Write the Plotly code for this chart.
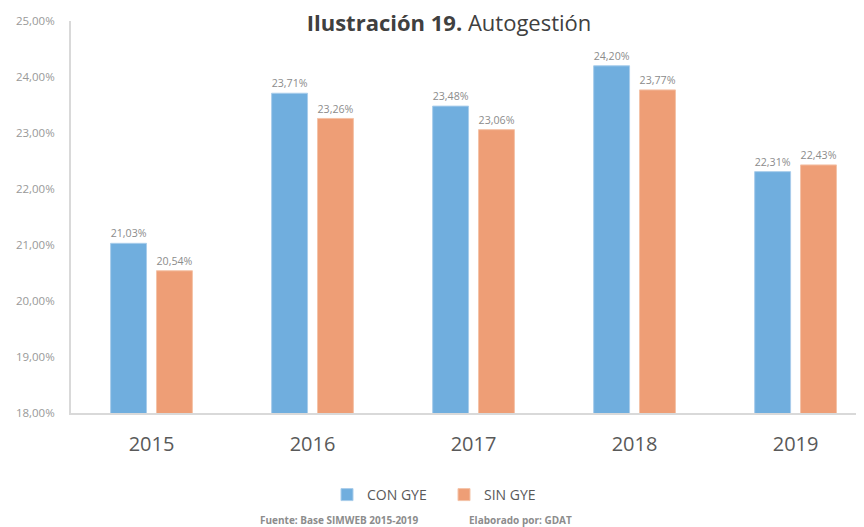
import plotly.graph_objects as go

years = ["2015", "2016", "2017", "2018", "2019"]
con_gye = [21.03, 23.71, 23.48, 24.20, 22.31]
sin_gye = [20.54, 23.26, 23.06, 23.77, 22.43]
y_ticks = [18, 19, 20, 21, 22, 23, 24, 25]

def fmt(v):
    return f"{v:.2f}".replace(".", ",") + "%"

FONT = "Open Sans"
W, H = 856, 519  # page body has an 8px margin in the 864x527 window
L, T, B = 63, 13, 114
fig = go.Figure()
fig.add_trace(go.Bar(
    x=years, y=con_gye, name="CON GYE",
    marker=dict(color="#70AEDE", line=dict(color="#A9CDEB", width=1)),
    text=[fmt(v) for v in con_gye], textposition="outside",
    textfont=dict(size=11, color="#8c8c8c", family=FONT), cliponaxis=False,
))
fig.add_trace(go.Bar(
    x=years, y=sin_gye, name="SIN GYE",
    marker=dict(color="#EE9E76", line=dict(color="#F4C3A8", width=1)),
    text=[fmt(v) for v in sin_gye], textposition="outside",
    textfont=dict(size=11, color="#8c8c8c", family=FONT), cliponaxis=False,
))

fig.update_layout(
    width=W, height=H,
    margin=dict(l=L, r=0, t=T, b=B, autoexpand=False),
    paper_bgcolor="white", plot_bgcolor="white",
    font=dict(family=FONT, color="#595959"),
    barmode="group", bargap=0.43, bargroupgap=0.217,
    showlegend=True,
    title=dict(text="<b>Ilustración 19.</b> Autogestión", x=441/W, xanchor="center",
               xref="container", y=1 - 15/H, yanchor="middle", yref="container",
               font=dict(size=22, color="#404040", family=FONT)),
    legend=dict(orientation="h", xref="container", yref="container",
                x=319/W, xanchor="left", y=1 - 487/H, yanchor="middle",
                font=dict(size=14, color="#595959", family=FONT),
                itemwidth=30, entrywidth=72, entrywidthmode="pixels",
                traceorder="normal"),
    xaxis=dict(range=[-0.5, 4.425], showline=True, linecolor="#d9d9d9", linewidth=2,
               ticks="", tickfont=dict(size=20, color="#595959", family=FONT),
               ticklabelstandoff=12, showgrid=False, automargin=False),
    yaxis=dict(range=[18, 25], tickvals=y_ticks, ticktext=[fmt(v) for v in y_ticks],
               showline=True, linecolor="#d9d9d9", linewidth=2, showgrid=False,
               zeroline=False, ticks="", tickfont=dict(size=11.5, color="#999999", family=FONT),
               ticklabelstandoff=12, automargin=False),
)

fy = (405 - 512) / (405 - T)
fig.add_annotation(text="<b>Fuente: Base SIMWEB 2015-2019</b>", xref="paper", yref="paper",
                   x=(331 - L) / (W - L), y=fy, xanchor="center", yanchor="middle",
                   showarrow=False, font=dict(size=10, color="#8c8c8c", family=FONT))
fig.add_annotation(text="<b>Elaborado por: GDAT</b>", xref="paper", yref="paper",
                   x=(512 - L) / (W - L), y=fy, xanchor="center", yanchor="middle",
                   showarrow=False, font=dict(size=10, color="#8c8c8c", family=FONT))

fig.write_html("out.html")
